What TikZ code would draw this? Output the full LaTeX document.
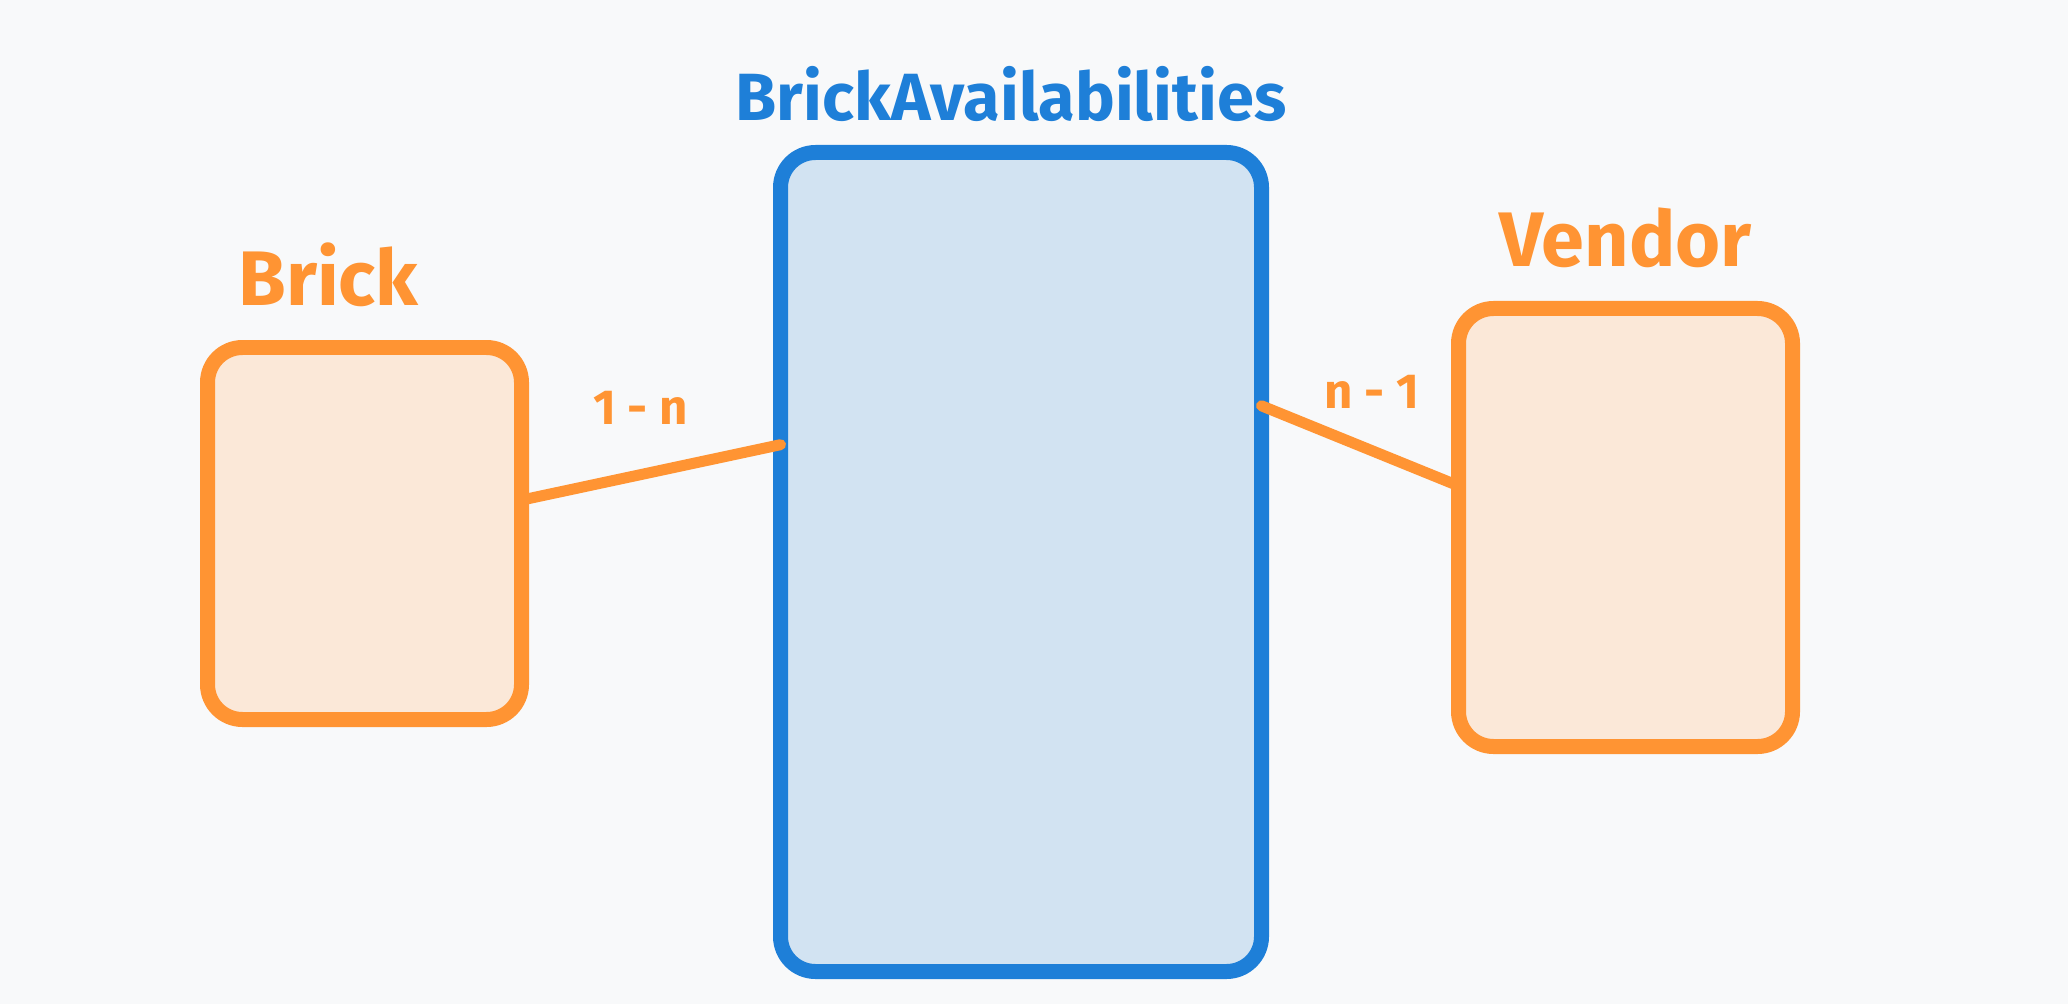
\documentclass[tikz,border=0pt]{standalone}
\usepackage{fontspec}
\setmainfont{Fira Sans}
\usepackage{xcolor}
\usetikzlibrary{positioning}
\definecolor{bgcol}{RGB}{248,249,250}
\definecolor{strokeblue}{RGB}{30,127,216}
\definecolor{fillblue}{RGB}{210,227,242}
\definecolor{strokeorange}{RGB}{255,148,51}
\definecolor{fillorange}{RGB}{251,232,216}

\begin{document}
\begin{tikzpicture}[
      entity/.style={rectangle, rounded corners=0.35cm, line width=0.15cm, inner sep=0pt, outer sep=0pt},
      brickbox/.style={entity, draw=strokeorange, fill=fillorange},
      availbox/.style={entity, draw=strokeblue, fill=fillblue},
      title/.style={font=\bfseries\fontsize{22}{26}\selectfont, inner sep=0pt},
      card/.style={font=\bfseries\fontsize{14}{16}\selectfont, text=strokeorange, inner sep=0pt},
      rel/.style={line width=0.11cm, draw=strokeorange, line cap=round}
    ]
      \fill[bgcol] (0,0) rectangle (20.68,10.04);
      \useasboundingbox (0,0) rectangle (20.68,10.04);
      % the three tables
      \node[brickbox, minimum width=3.14cm, minimum height=3.72cm] (brick) at (3.645,4.705) {};
      \node[availbox, minimum width=4.81cm, minimum height=8.19cm] (avail) at (10.21,4.42) {};
      \node[brickbox, minimum width=3.34cm, minimum height=4.38cm] (vendor) at (16.255,4.765) {};
      \node[title, text=strokeorange, above=0.4cm of brick, xshift=-0.36cm] (brickname) {Brick};
      \node[title, text=strokeblue, font=\bfseries\fontsize{19}{23}\selectfont, above=0.3cm of avail, xshift=-0.1cm] (availname) {BrickAvailabilities};
      \node[title, text=strokeorange, above=0.4cm of vendor] (vendorname) {Vendor};
      \draw[rel] (brick.12) -- node[card, pos=0.46, above=0.45cm] (cardleft) {1 - n} (avail.154.25);
      \draw[rel] (avail.33) -- node[card, pos=0.56, above=0.37cm] (cardright) {n - 1} (vendor.166.7);
    \end{tikzpicture}
\end{document}
